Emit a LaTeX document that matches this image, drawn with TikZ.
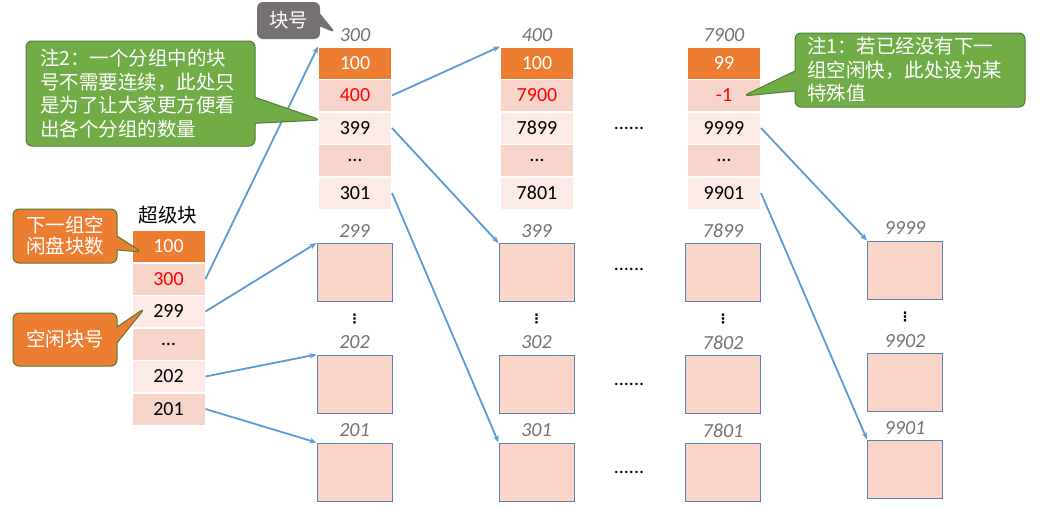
\documentclass[tikz,border=0pt]{standalone}
\usepackage{fontspec}
\setmainfont{Carlito}
\newfontfamily\cjk{Noto Sans CJK SC}
\newfontfamily\symfont{DejaVu Sans}
\usetikzlibrary{arrows.meta}
\usetikzlibrary{shapes.callouts}

\definecolor{accorange}{HTML}{ED7D31}
\definecolor{celldark}{HTML}{F8D5CB}
\definecolor{celllight}{HTML}{FBEAE6}
\definecolor{blkfill}{HTML}{FAD5C7}
\definecolor{blkborder}{HTML}{5E81AC}
\definecolor{numgray}{HTML}{767171}
\definecolor{linkblue}{HTML}{5B9BD5}
\definecolor{notegreen}{HTML}{70AD47}
\definecolor{noteedge}{HTML}{507E32}

\tikzset{
  cell/.style={rectangle,draw=white,line width=1pt,minimum width=73pt,minimum height=32pt,inner sep=0pt,font=\fontsize{20}{23}\selectfont},
  topcell/.style={cell,fill=accorange,text=white},
  darkcell/.style={cell,fill=celldark},
  lightcell/.style={cell,fill=celllight},
  blk/.style={rectangle,draw=blkborder,line width=1pt,fill=blkfill,minimum width=75pt,minimum height=58pt},
  num/.style={inner sep=1pt,font=\fontsize{20}{23}\selectfont\itshape,text=numgray},
  gap/.style={font=\fontsize{20}{23}\selectfont},
  vdot/.style={inner sep=0pt,font=\symfont\bfseries\fontsize{13}{14}\selectfont},
  link/.style={draw=linkblue,line width=1.8pt,-{Stealth[length=7pt,width=5.5pt]}},
  note/.style={rectangle callout,rounded corners=6pt,line width=1pt,text=white,inner sep=0pt,font=\cjk\fontsize{19.5}{23.5}\selectfont},
}

\begin{document}
\begin{tikzpicture}[x=1pt,y=-1pt]
\useasboundingbox (0,0) rectangle (1054,507);

% super block
\node[font=\cjk\fontsize{19.5}{22}\selectfont] (sbname) at (168,215) {超级块};
\node[topcell] (sb1) at (168.5,246.5) {100};
\node[darkcell,text=red] (sb2) at (168.5,279) {300};
\node[lightcell] (sb3) at (168.5,311.5) {299};
\node[darkcell] (sb4) at (168.5,344) {\textellipsis};
\node[lightcell] (sb5) at (168.5,376.5) {202};
\node[darkcell] (sb6) at (168.5,409) {201};

% group blocks
\node[num] (hA) at (355,35.5) {300};
\node[topcell] (ga1) at (355,63) {100};
\node[darkcell,text=red] (ga2) at (355,95.5) {400};
\node[lightcell] (ga3) at (355,128) {399};
\node[darkcell] (ga4) at (355,160.5) {\textellipsis};
\node[lightcell] (ga5) at (355,193) {301};

\node[num] (hB) at (537,35.5) {400};
\node[topcell] (gb1) at (537,63) {100};
\node[darkcell,text=red] (gb2) at (537,95.5) {7900};
\node[lightcell] (gb3) at (537,128) {7899};
\node[darkcell] (gb4) at (537,160.5) {\textellipsis};
\node[lightcell] (gb5) at (537,193) {7801};

\node[gap] (gapG) at (629,128) {......};

\node[num] (hC) at (724,35.5) {7900};
\node[topcell] (gc1) at (724,63) {99};
\node[darkcell,text=red] (gc2) at (724,95.5) {-1};
\node[lightcell] (gc3) at (724,128) {9999};
\node[darkcell] (gc4) at (724,160.5) {\textellipsis};
\node[lightcell] (gc5) at (724,193) {9901};

% free blocks
\node[num] (la1) at (354.5,231) {299};
\node[blk] (fa1) at (354.5,272.5) {};
\node[vdot] (va) at (354.5,319) {⋮};
\node[num] (la2) at (354.5,342.5) {202};
\node[blk] (fa2) at (354.5,384) {};
\node[num] (la3) at (354.5,430.5) {201};
\node[blk] (fa3) at (354.5,472) {};

\node[num] (lb1) at (536.5,231) {399};
\node[blk] (fb1) at (536.5,272.5) {};
\node[vdot] (vb) at (536.5,319) {⋮};
\node[num] (lb2) at (536.5,342.5) {302};
\node[blk] (fb2) at (536.5,384) {};
\node[num] (lb3) at (536.5,430.5) {301};
\node[blk] (fb3) at (536.5,472) {};

\node[gap] (gap1) at (629,269) {......};
\node[gap] (gap2) at (629,384) {......};
\node[gap] (gap3) at (629,472) {......};

\node[num] (lc1) at (723,231) {7899};
\node[blk] (fc1) at (723,272.5) {};
\node[vdot] (vc) at (723,319) {⋮};
\node[num] (lc2) at (723,342.5) {7802};
\node[blk] (fc2) at (723,384) {};
\node[num] (lc3) at (723,430.5) {7801};
\node[blk] (fc3) at (723,472) {};

\node[num] (ld1) at (905,228) {9999};
\node[blk] (fd1) at (905,270) {};
\node[vdot] (vd) at (905,317) {⋮};
\node[num] (ld2) at (905,341) {9902};
\node[blk] (fd2) at (905,382) {};
\node[num] (ld3) at (905,428) {9901};
\node[blk] (fd3) at (905,469) {};

% links
\draw[link] (sb2.east) -- (ga1.north west);
\draw[link] (sb3.east) -- (fa1.north west);
\draw[link] (sb5.east) -- (fa2.north west);
\draw[link] (sb6.east) -- (fa3.north west);
\draw[link] (ga2.east) -- (gb1.north west);
\draw[link] (ga3.east) -- (fb1.north west);
\draw[link] (ga5.east) -- (fb3.north west);
\draw[link] (gc3.east) -- (fd1.north west);
\draw[link] (gc5.east) -- (fd3.north west);

% callouts
\coordinate (tipNo) at (336,33);
\coordinate (tipN2) at (321,120);
\coordinate (tipN1) at (743,96);
\coordinate (tipO1) at (142,252);
\coordinate (tipO2) at (145,308);
\node[note,fill=numgray,minimum width=63pt,minimum height=37pt,callout absolute pointer=(tipNo),callout pointer width=13pt] (blkno) at (288.5,20.5) {块号};
\node[note,fill=notegreen,draw=noteedge,minimum width=229pt,minimum height=105pt,text width=201pt,align=left,callout absolute pointer=(tipN2),callout pointer width=26pt] (note2) at (140.5,93.5) {注2：一个分组中的块\\号不需要连续，此处只\\是为了让大家更方便看\\出各个分组的数量};
\node[note,fill=notegreen,draw=noteedge,minimum width=230pt,minimum height=74pt,text width=206pt,align=left,callout absolute pointer=(tipN1),callout pointer width=20pt] (note1) at (910,70) {注1：若已经没有下一\\组空闲快，此处设为某\\特殊值};
\node[note,fill=accorange,draw=noteedge,minimum width=104pt,minimum height=54pt,align=center,font=\cjk\fontsize{19.5}{21}\selectfont,callout absolute pointer=(tipO1),callout pointer width=14pt] (nextcnt) at (65,236) {下一组空\\闲盘块数};
\node[note,fill=accorange,draw=noteedge,minimum width=104pt,minimum height=53pt,callout absolute pointer=(tipO2),callout pointer width=16pt] (freeno) at (65,339.5) {空闲块号};

\end{tikzpicture}
\end{document}
